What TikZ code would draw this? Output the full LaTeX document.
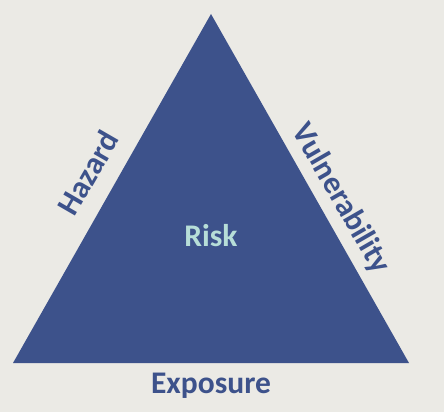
\documentclass[tikz,border=0pt]{standalone}
\usepackage{fontspec}
\setmainfont{Carlito}
\definecolor{bg}{HTML}{EBEAE5}
\definecolor{tri}{HTML}{3D528B}
\definecolor{risk}{HTML}{B7DED8}
\begin{document}
\begin{tikzpicture}[x=1pt,y=-1pt,
  lbl/.style={font=\fontsize{31.5}{36}\selectfont\bfseries, text=tri, inner sep=0pt}]
\fill[bg] (0,0) rectangle (444,412);
\useasboundingbox (0,0) rectangle (444,412);
\coordinate (apex) at (211,14);
\coordinate (bl) at (13,363);
\coordinate (br) at (409,363);
\fill[tri] (apex) -- (br) -- (bl) -- cycle;
\node[lbl, text=risk] (risk) at (211,236) {Risk};
\node[lbl] (exposure) at (211,386) {Exposure};
\node[lbl, rotate=60] (hazard) at (88,173) {Hazard};
\node[lbl, rotate=-60] (vuln) at (341,199) {Vulnerability};
\end{tikzpicture}
\end{document}
